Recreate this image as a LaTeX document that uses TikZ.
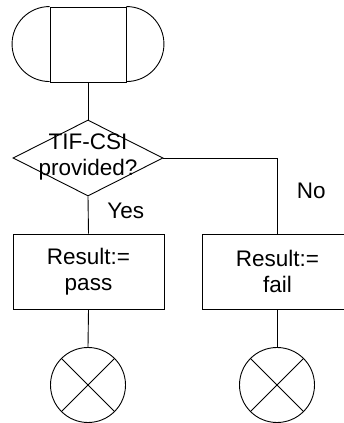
\documentclass[tikz,border=0pt]{standalone}
\usepackage{fontspec}
\setmainfont{Liberation Sans}
\usetikzlibrary{shapes.geometric}
\begin{document}
\begin{tikzpicture}[x=1pt,y=1pt,line width=0.9pt,
  lbl/.style={font=\fontsize{22.5}{25.5}\selectfont},
  txt/.style={lbl,align=center,inner sep=0pt},
  procbox/.style={draw,rectangle,minimum width=151pt,minimum height=75pt,inner sep=0pt},
  termbox/.style={draw,rectangle,minimum width=76pt,minimum height=75pt,inner sep=0pt},
  decbox/.style={draw,diamond,minimum width=150pt,minimum height=76pt,inner sep=0pt},
  endcirc/.style={draw,circle,minimum size=75pt,inner sep=0pt}]
\useasboundingbox (0,0) rectangle (344,423);
\clip (0,0) rectangle (344,423);
\node[termbox] (start) at (88,378.5) {};
\draw (start.north west) arc (90:270:37.5);
\draw (start.north east) arc (90:-90:37.5);
\node[decbox] (dec) at (88,265) {};
\node[txt] (dectxt) at (88,266) {TIF-CSI\\provided?};
\node[procbox] (pass) at (88.5,151.5) {};
\node[txt] at (88.5,151.5) {Result:=\\pass};
\node[procbox] (fail) at (277.5,151.5) {};
\node[txt] at (277.5,151.5) {Result:=\\fail};
\node[endcirc] (e1) at (88,38) {};
\node[endcirc] (e2) at (277,38) {};
\draw (e1.45) -- (e1.225) (e1.135) -- (e1.315);
\draw (e2.45) -- (e2.225) (e2.135) -- (e2.315);
\draw (start.south) -- (dec.north);
\draw (dec.south) -- (pass.north);
\draw (dec.east) -| (fail.north);
\draw (pass.south) -- (e1.north);
\draw ([xshift=-0.5pt]fail.south) -- (e2.north);
\node[lbl,inner sep=0pt,anchor=base west] (yes) at (107,204.7) {Yes};
\node[lbl,inner sep=0pt,anchor=base west] (no) at (296.5,224) {No};
\end{tikzpicture}
\end{document}
